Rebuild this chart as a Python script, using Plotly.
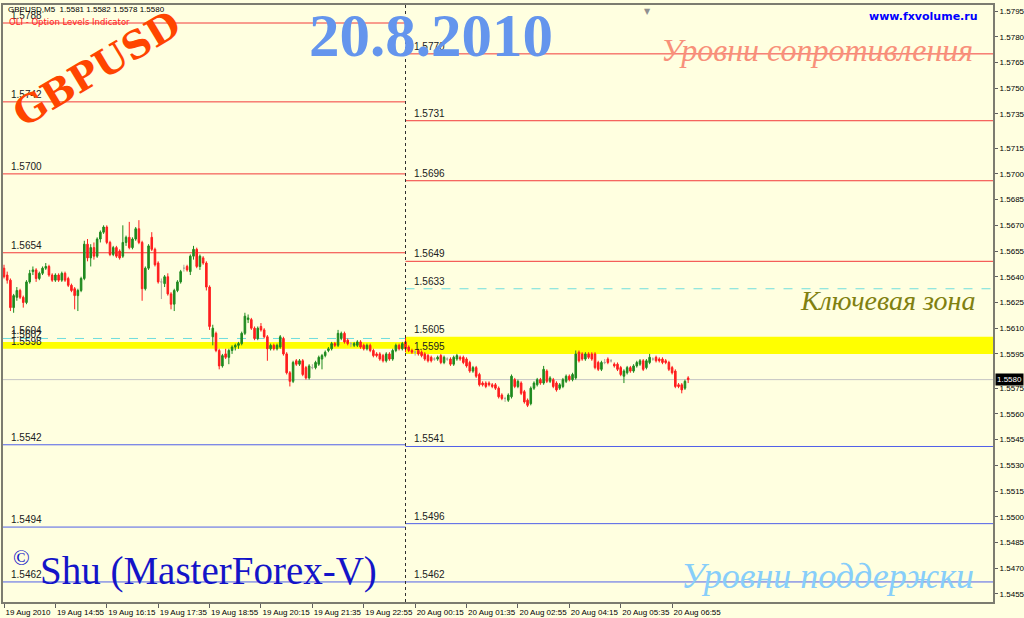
import numpy as np
import plotly.graph_objects as go

# ---------------- data (GBPUSD M5, 19 Aug 13:35 -> 20 Aug 07:20) ----------------
open_ = [
    1.5645, 1.5641, 1.5638, 1.5622, 1.5628, 1.5632, 1.5628, 1.5625, 1.5637, 1.5643,
    1.5644, 1.5639, 1.5642, 1.5645, 1.5646, 1.5641, 1.5638, 1.5641, 1.5638, 1.5642,
    1.5639, 1.5635, 1.5633, 1.5629, 1.5632, 1.5639, 1.5659, 1.5651, 1.5657, 1.5652,
    1.5662, 1.5666, 1.5669, 1.5660, 1.5653, 1.5657, 1.5655, 1.5652, 1.5660, 1.5663,
    1.5657, 1.5662, 1.5668, 1.5660, 1.5633, 1.5645, 1.5663, 1.5656, 1.5648, 1.5637,
    1.5636, 1.5640, 1.5630, 1.5624, 1.5632, 1.5637, 1.5645, 1.5646, 1.5643, 1.5652,
    1.5656, 1.5646, 1.5651, 1.5648, 1.5634, 1.5605, 1.5607, 1.5597, 1.5588, 1.5595,
    1.5593, 1.5597, 1.5599, 1.5600, 1.5601, 1.5607, 1.5615, 1.5615, 1.5610, 1.5604,
    1.5611, 1.5609, 1.5605, 1.5598, 1.5600, 1.5598, 1.5599, 1.5604, 1.5595, 1.5584,
    1.5579, 1.5591, 1.5589, 1.5591, 1.5587, 1.5581, 1.5587, 1.5587, 1.5589, 1.5592,
    1.5594, 1.5597, 1.5598, 1.5601, 1.5600, 1.5604, 1.5607, 1.5603, 1.5601, 1.5600,
    1.5600, 1.5602, 1.5600, 1.5598, 1.5600, 1.5597, 1.5595, 1.5595, 1.5594, 1.5591,
    1.5595, 1.5592, 1.5597, 1.5600, 1.5598, 1.5602, 1.5599, 1.5597, 1.5596, 1.5597,
    1.5596, 1.5595, 1.5594, 1.5593, 1.5592, 1.5592, 1.5594, 1.5590, 1.5592, 1.5592,
    1.5589, 1.5592, 1.5593, 1.5593, 1.5592, 1.5590, 1.5585, 1.5587, 1.5583, 1.5578,
    1.5578, 1.5578, 1.5577, 1.5577, 1.5575, 1.5571, 1.5569, 1.5568, 1.5570, 1.5580,
    1.5576, 1.5578, 1.5573, 1.5568, 1.5566, 1.5575, 1.5577, 1.5580, 1.5578, 1.5585,
    1.5579, 1.5580, 1.5578, 1.5575, 1.5576, 1.5579, 1.5582, 1.5580, 1.5581, 1.5596,
    1.5595, 1.5592, 1.5595, 1.5595, 1.5595, 1.5590, 1.5586, 1.5590, 1.5592, 1.5591,
    1.5589, 1.5589, 1.5587, 1.5582, 1.5584, 1.5587, 1.5585, 1.5588, 1.5589, 1.5591,
    1.5587, 1.5590, 1.5592, 1.5593, 1.5592, 1.5592, 1.5591, 1.5590, 1.5587, 1.5585,
    1.5577, 1.5577, 1.5575, 1.5581,
]
high = [
    1.5647, 1.5643, 1.5639, 1.5630, 1.5634, 1.5633, 1.5629, 1.5638, 1.5644, 1.5646,
    1.5645, 1.5643, 1.5646, 1.5648, 1.5647, 1.5642, 1.5642, 1.5642, 1.5643, 1.5643,
    1.5640, 1.5636, 1.5634, 1.5633, 1.5640, 1.5661, 1.5662, 1.5659, 1.5660, 1.5663,
    1.5667, 1.5670, 1.5670, 1.5661, 1.5658, 1.5658, 1.5656, 1.5670, 1.5664, 1.5672,
    1.5663, 1.5669, 1.5673, 1.5661, 1.5646, 1.5659, 1.5666, 1.5657, 1.5649, 1.5639,
    1.5641, 1.5642, 1.5631, 1.5633, 1.5638, 1.5644, 1.5647, 1.5647, 1.5653, 1.5658,
    1.5657, 1.5653, 1.5652, 1.5649, 1.5635, 1.5612, 1.5608, 1.5598, 1.5595, 1.5598,
    1.5598, 1.5600, 1.5601, 1.5602, 1.5608, 1.5619, 1.5618, 1.5616, 1.5611, 1.5611,
    1.5613, 1.5610, 1.5606, 1.5601, 1.5601, 1.5601, 1.5606, 1.5605, 1.5596, 1.5585,
    1.5591, 1.5592, 1.5592, 1.5592, 1.5588, 1.5589, 1.5589, 1.5591, 1.5594, 1.5595,
    1.5597, 1.5599, 1.5602, 1.5602, 1.5609, 1.5608, 1.5608, 1.5604, 1.5602, 1.5602,
    1.5603, 1.5603, 1.5601, 1.5601, 1.5601, 1.5598, 1.5596, 1.5596, 1.5595, 1.5596,
    1.5596, 1.5598, 1.5601, 1.5601, 1.5602, 1.5606, 1.5600, 1.5598, 1.5597, 1.5598,
    1.5597, 1.5596, 1.5595, 1.5594, 1.5593, 1.5594, 1.5595, 1.5594, 1.5593, 1.5593,
    1.5594, 1.5595, 1.5594, 1.5594, 1.5593, 1.5591, 1.5588, 1.5588, 1.5584, 1.5579,
    1.5579, 1.5579, 1.5578, 1.5578, 1.5576, 1.5572, 1.5570, 1.5572, 1.5583, 1.5581,
    1.5580, 1.5579, 1.5574, 1.5569, 1.5576, 1.5579, 1.5581, 1.5581, 1.5588, 1.5586,
    1.5582, 1.5581, 1.5579, 1.5578, 1.5581, 1.5583, 1.5583, 1.5584, 1.5597, 1.5597,
    1.5596, 1.5596, 1.5596, 1.5596, 1.5596, 1.5591, 1.5591, 1.5592, 1.5593, 1.5592,
    1.5590, 1.5590, 1.5588, 1.5586, 1.5588, 1.5588, 1.5589, 1.5591, 1.5592, 1.5592,
    1.5592, 1.5595, 1.5593, 1.5594, 1.5593, 1.5593, 1.5592, 1.5591, 1.5588, 1.5586,
    1.5578, 1.5578, 1.5580, 1.5582,
]
low = [
    1.5639, 1.5636, 1.5620, 1.5619, 1.5626, 1.5627, 1.5622, 1.5624, 1.5636, 1.5641,
    1.5637, 1.5638, 1.5641, 1.5644, 1.5640, 1.5637, 1.5637, 1.5637, 1.5637, 1.5637,
    1.5634, 1.5631, 1.5621, 1.5620, 1.5631, 1.5638, 1.5649, 1.5646, 1.5650, 1.5651,
    1.5660, 1.5665, 1.5659, 1.5652, 1.5652, 1.5651, 1.5650, 1.5651, 1.5658, 1.5656,
    1.5656, 1.5661, 1.5659, 1.5626, 1.5632, 1.5644, 1.5655, 1.5646, 1.5636, 1.5627,
    1.5634, 1.5629, 1.5621, 1.5620, 1.5631, 1.5636, 1.5643, 1.5643, 1.5641, 1.5650,
    1.5645, 1.5644, 1.5647, 1.5632, 1.5609, 1.5600, 1.5596, 1.5586, 1.5587, 1.5592,
    1.5589, 1.5595, 1.5597, 1.5598, 1.5600, 1.5606, 1.5613, 1.5609, 1.5603, 1.5603,
    1.5608, 1.5604, 1.5591, 1.5597, 1.5597, 1.5597, 1.5598, 1.5594, 1.5583, 1.5576,
    1.5578, 1.5588, 1.5588, 1.5582, 1.5580, 1.5580, 1.5586, 1.5586, 1.5588, 1.5586,
    1.5593, 1.5596, 1.5597, 1.5599, 1.5599, 1.5603, 1.5601, 1.5600, 1.5599, 1.5599,
    1.5599, 1.5598, 1.5597, 1.5597, 1.5596, 1.5593, 1.5593, 1.5591, 1.5590, 1.5590,
    1.5591, 1.5591, 1.5596, 1.5597, 1.5597, 1.5596, 1.5596, 1.5595, 1.5594, 1.5594,
    1.5593, 1.5591, 1.5590, 1.5590, 1.5591, 1.5591, 1.5589, 1.5589, 1.5591, 1.5588,
    1.5588, 1.5591, 1.5591, 1.5589, 1.5587, 1.5584, 1.5584, 1.5581, 1.5576, 1.5576,
    1.5575, 1.5576, 1.5575, 1.5574, 1.5569, 1.5568, 1.5567, 1.5567, 1.5569, 1.5575,
    1.5575, 1.5571, 1.5566, 1.5564, 1.5565, 1.5574, 1.5576, 1.5577, 1.5577, 1.5578,
    1.5578, 1.5575, 1.5573, 1.5574, 1.5575, 1.5578, 1.5579, 1.5579, 1.5580, 1.5590,
    1.5591, 1.5591, 1.5592, 1.5591, 1.5586, 1.5585, 1.5585, 1.5589, 1.5589, 1.5590,
    1.5587, 1.5585, 1.5582, 1.5578, 1.5583, 1.5584, 1.5584, 1.5587, 1.5588, 1.5585,
    1.5586, 1.5589, 1.5591, 1.5590, 1.5590, 1.5589, 1.5589, 1.5585, 1.5583, 1.5575,
    1.5575, 1.5572, 1.5574, 1.5578,
]
close = [
    1.5640, 1.5638, 1.5622, 1.5629, 1.5632, 1.5628, 1.5625, 1.5637, 1.5642, 1.5644,
    1.5639, 1.5642, 1.5645, 1.5646, 1.5641, 1.5638, 1.5641, 1.5638, 1.5642, 1.5638,
    1.5635, 1.5632, 1.5629, 1.5632, 1.5639, 1.5659, 1.5651, 1.5657, 1.5652, 1.5662,
    1.5666, 1.5669, 1.5660, 1.5653, 1.5657, 1.5652, 1.5651, 1.5660, 1.5663, 1.5657,
    1.5662, 1.5668, 1.5660, 1.5633, 1.5645, 1.5658, 1.5656, 1.5647, 1.5637, 1.5637,
    1.5640, 1.5630, 1.5624, 1.5632, 1.5637, 1.5643, 1.5645, 1.5644, 1.5652, 1.5656,
    1.5646, 1.5652, 1.5648, 1.5634, 1.5611, 1.5610, 1.5597, 1.5588, 1.5594, 1.5593,
    1.5597, 1.5599, 1.5600, 1.5601, 1.5607, 1.5617, 1.5616, 1.5610, 1.5604, 1.5610,
    1.5609, 1.5605, 1.5598, 1.5600, 1.5598, 1.5600, 1.5605, 1.5595, 1.5584, 1.5579,
    1.5590, 1.5589, 1.5591, 1.5583, 1.5581, 1.5588, 1.5587, 1.5590, 1.5593, 1.5594,
    1.5596, 1.5598, 1.5601, 1.5600, 1.5607, 1.5607, 1.5602, 1.5601, 1.5601, 1.5601,
    1.5602, 1.5599, 1.5598, 1.5600, 1.5597, 1.5594, 1.5594, 1.5592, 1.5591, 1.5595,
    1.5592, 1.5597, 1.5600, 1.5598, 1.5601, 1.5598, 1.5597, 1.5596, 1.5596, 1.5595,
    1.5594, 1.5592, 1.5591, 1.5591, 1.5592, 1.5593, 1.5590, 1.5593, 1.5592, 1.5589,
    1.5593, 1.5594, 1.5592, 1.5590, 1.5588, 1.5585, 1.5587, 1.5582, 1.5577, 1.5577,
    1.5576, 1.5577, 1.5576, 1.5575, 1.5570, 1.5569, 1.5569, 1.5571, 1.5582, 1.5576,
    1.5579, 1.5572, 1.5567, 1.5565, 1.5575, 1.5578, 1.5580, 1.5578, 1.5586, 1.5579,
    1.5581, 1.5576, 1.5574, 1.5577, 1.5580, 1.5582, 1.5580, 1.5583, 1.5595, 1.5591,
    1.5592, 1.5595, 1.5593, 1.5592, 1.5587, 1.5586, 1.5590, 1.5590, 1.5590, 1.5591,
    1.5588, 1.5586, 1.5583, 1.5585, 1.5587, 1.5585, 1.5588, 1.5590, 1.5591, 1.5586,
    1.5591, 1.5593, 1.5592, 1.5591, 1.5591, 1.5590, 1.5590, 1.5586, 1.5584, 1.5576,
    1.5576, 1.5574, 1.5579, 1.5580,
]

# x-axis tick labels (every 16 bars)
tick_labels = ["19 Aug 2010", "19 Aug 14:55", "19 Aug 16:15", "19 Aug 17:35",
               "19 Aug 18:55", "19 Aug 20:15", "19 Aug 21:35", "19 Aug 22:55",
               "20 Aug 00:15", "20 Aug 01:35", "20 Aug 02:55", "20 Aug 04:15",
               "20 Aug 05:35", "20 Aug 06:55"]
price_ticks = [1.5455, 1.5470, 1.5485, 1.5500, 1.5515, 1.5530, 1.5545, 1.5560,
               1.5575, 1.5595, 1.5610, 1.5625, 1.5640, 1.5655, 1.5670, 1.5685,
               1.5700, 1.5715, 1.5735, 1.5750, 1.5765, 1.5780, 1.5795]

# option levels
day_split = 125                    # first bar of 20 Aug
left_resist = [1.5788, 1.5742, 1.5700, 1.5654]
left_support = [1.5542, 1.5494, 1.5462]
left_key = 1.5604
left_zone = [1.5598, 1.5602]
right_resist = [1.5770, 1.5731, 1.5696, 1.5649]
right_support = [1.5541, 1.5496, 1.5462]
right_key = 1.5633
right_zone = [1.5595, 1.5605]
bid = 1.5580
header = "GBPUSD,M5  1.5581 1.5582 1.5578 1.5580"

# ---------------- figure ----------------
o = np.array(open_); h = np.array(high); l = np.array(low); c = np.array(close)
x = np.arange(len(o))
eq = np.isclose(o, c)
up = (c > o) & ~eq
dn = (c < o) & ~eq

XMIN, XMAX = -0.31, 307.9
YMIN, YMAX = 1.54503, 1.57985

fig = go.Figure()
for mask, col in [(up, "#1f8a1f"), (dn, "#ff1e1e"), (eq, "#a8a8a0")]:
    fig.add_trace(go.Candlestick(
        x=x[mask], open=o[mask], high=h[mask], low=l[mask], close=c[mask],
        increasing=dict(line=dict(color=col, width=1), fillcolor=col),
        decreasing=dict(line=dict(color=col, width=1), fillcolor=col),
        whiskerwidth=0, showlegend=False, hoverinfo="skip"))

shapes = []
RED, BLUE, CYAN, YEL = "#f23a3a", "#5060e8", "#6fdede", "#ffff00"

def hline(x0, x1, yv, col, dash="solid"):
    shapes.append(dict(type="line", xref="x", yref="y", x0=x0, x1=x1, y0=yv, y1=yv,
                       line=dict(color=col, width=1, dash=dash), layer="below"))

# yellow key zones
shapes.append(dict(type="rect", xref="x", yref="y", x0=XMIN, x1=day_split,
                   y0=left_zone[0], y1=left_zone[1], fillcolor=YEL, line_width=0, layer="below"))
shapes.append(dict(type="rect", xref="x", yref="y", x0=day_split, x1=XMAX,
                   y0=right_zone[0], y1=right_zone[1], fillcolor=YEL, line_width=0, layer="below"))
for v in left_resist:
    hline(XMIN, day_split, v, RED)
for v in left_support:
    hline(XMIN, day_split, v, BLUE)
hline(XMIN, day_split, left_key, CYAN, "dash")
for v in right_resist:
    hline(day_split, XMAX, v, RED)
for v in right_support:
    hline(day_split, XMAX, v, BLUE)
hline(day_split, XMAX, right_key, CYAN, "dash")
hline(XMIN, XMAX, bid, "#c4c4c4")
# day separator
shapes.append(dict(type="line", xref="x", yref="paper", x0=day_split, x1=day_split, y0=0, y1=1,
                   line=dict(color="#303030", width=1, dash="dot")))

ann = []
lab_font = dict(family="Liberation Sans, Arial", size=10, color="#202020")
for v in left_resist + left_support + [left_key, left_zone[1], left_zone[0]]:
    ann.append(dict(x=1.5, y=v, xref="x", yref="y", text=f"{v:.4f}", showarrow=False,
                    xanchor="left", yanchor="bottom", font=lab_font))
for v in right_resist + right_support + [right_key, right_zone[1], right_zone[0]]:
    ann.append(dict(x=127, y=v, xref="x", yref="y", text=f"{v:.4f}", showarrow=False,
                    xanchor="left", yanchor="bottom", font=lab_font))

def px(xp):
    return (xp - 3) / 990.0

def py(yp):
    return (602 - yp) / 597.0

ann += [
    dict(x=px(6), y=py(3), text=header, xanchor="left", yanchor="top",
         font=dict(family="Liberation Sans, Arial", size=8, color="#000000")),
    dict(x=px(7), y=py(22), text="OLI - Option Levels Indicator", xanchor="left", yanchor="middle",
         font=dict(family="DejaVu Sans", size=8.5, color="#ff2020")),
    dict(x=px(96), y=py(68), text="<b>GBPUSD</b>", textangle=-31,
         font=dict(family="DejaVu Serif", size=38, color="#ff4500")),
    dict(x=px(431), y=py(35), text="<b>20.8.2010</b>",
         font=dict(family="Liberation Serif", size=61, color="#6495ed")),
    dict(x=px(923), y=py(17), text="<b>www.fxvolume.ru</b>",
         font=dict(family="DejaVu Sans", size=11, color="#0000ff")),
    dict(x=px(817), y=py(50), text="Уровни сопротивления",
         font=dict(family="Liberation Serif", size=32, color="#f8907a", style="italic")),
    dict(x=px(887), y=py(300), text="Ключевая зона",
         font=dict(family="Liberation Serif", size=28, color="#808010", style="italic")),
    dict(x=px(827), y=py(576), text="Уровни поддержки",
         font=dict(family="Liberation Serif", size=36, color="#87cefa", style="italic")),
    dict(x=px(21), y=py(557), text="©",
         font=dict(family="Liberation Serif", size=22, color="#1414c8")),
    dict(x=px(208), y=py(571), text="Shu (MasterForex-V)",
         font=dict(family="Liberation Serif", size=39, color="#1414c8")),
    dict(x=px(647), y=1.0, text="▼", yanchor="top",
         font=dict(family="DejaVu Sans", size=8, color="#909090")),
    dict(x=1.0, y=bid, xref="paper", yref="y", text="1.5580", xanchor="left", xshift=2,
         bgcolor="#000000", borderpad=1,
         font=dict(family="Liberation Sans, Arial", size=8, color="#ffffff")),
]
for a in ann:
    a.setdefault("xref", "paper")
    a.setdefault("yref", "paper")
    a.setdefault("showarrow", False)
    a.setdefault("xanchor", "center")
    a.setdefault("yanchor", "middle")

BG = "#ffffe0"
fig.update_layout(
    width=1024, height=618,
    margin=dict(l=3, r=31, t=5, b=16),
    paper_bgcolor=BG, plot_bgcolor=BG,
    shapes=shapes, annotations=ann, showlegend=False,
    xaxis=dict(range=[XMIN, XMAX], rangeslider=dict(visible=False),
               tickvals=list(range(0, 16 * len(tick_labels), 16)), ticktext=tick_labels,
               ticks="outside", ticklen=4, tickcolor="#606060", tickangle=0,
               ticklabelposition="outside right", ticklabelstandoff=1,
               tickfont=dict(family="Liberation Sans, Arial", size=8, color="#000000"),
               showgrid=False, zeroline=False, showline=True, linecolor="#7c7c70",
               linewidth=2, mirror=True, automargin=False, fixedrange=True),
    yaxis=dict(range=[YMIN, YMAX], side="right", tickvals=price_ticks, tickformat=".4f",
               ticks="outside", ticklen=3, tickcolor="#606060",
               tickfont=dict(family="Liberation Sans, Arial", size=8, color="#000000"),
               showgrid=False, zeroline=False, showline=True, linecolor="#7c7c70",
               linewidth=2, mirror=True, automargin=False, fixedrange=True),
)

fig.write_html("out.html", config={"displayModeBar": False},
               post_script="document.body.style.margin='0';document.body.style.overflow='hidden';")
